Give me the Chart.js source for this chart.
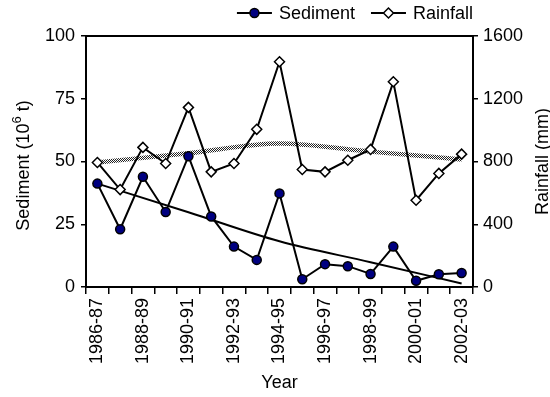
<!DOCTYPE html>
<html>
<head>
<meta charset="utf-8">
<script src="https://cdn.jsdelivr.net/npm/chart.js@4.4.1/dist/chart.umd.min.js"></script>
<style>
  html, body { margin: 0; padding: 0; background: #fff; }
  #wrap { width: 550px; height: 397px; }
</style>
</head>
<body>
<div id="wrap"><canvas id="chart" width="550" height="397"></canvas></div>
<script>
// Hydrological years
const years = ['1986-87', '1987-88', '1988-89', '1989-90', '1990-91', '1991-92',
  '1992-93', '1993-94', '1994-95', '1995-96', '1996-97', '1997-98', '1998-99',
  '1999-00', '2000-01', '2001-02', '2002-03'];

// Annual sediment load (10^6 t)
const sediment = [41.2, 23.0, 43.9, 29.9, 52.1, 28.1, 16.1, 10.8, 37.3,
  3.1, 9.1, 8.3, 5.2, 16.1, 2.5, 5.1, 5.6];

// Annual rainfall (mm)
const rainfall = [794, 621, 890, 787, 1145, 734, 787, 1005, 1436,
  749, 734, 808, 877, 1308, 553, 724, 847];

// Trend curves, sampled at these years
const trendYears = ['1986-87', '1990-91', '1994-95', '1998-99', '2002-03'];
const sedimentTrend = [41.2, 29.8, 18.2, 9.9, 1.4];
const rainfallTrend = [794, 853, 915, 863, 813];

// Axis ranges and steps
const sedimentAxis = { min: 0, max: 100, step: 25 };
const rainfallAxis = { min: 0, max: 1600, step: 400 };

const FONT = '"Liberation Sans", Arial, Helvetica, sans-serif';
const INK = '#000';

// checkered stroke used for the rainfall trend band
function checkerPattern() {
  const c = document.createElement('canvas');
  c.width = 2; c.height = 2;
  const g = c.getContext('2d');
  g.fillStyle = '#fff'; g.fillRect(0, 0, 2, 2);
  g.fillStyle = '#222'; g.fillRect(0, 0, 1, 1); g.fillRect(1, 1, 1, 1);
  return document.getElementById('chart').getContext('2d').createPattern(c, 'repeat');
}

const toPoints = (xs, ys) => xs.map((x, i) => ({ x, y: ys[i] }));

// vertical title reading bottom to top; parts may be raised (superscript)
function verticalTitle(ctx, parts, cx, cy) {
  ctx.save();
  ctx.translate(cx, cy);
  ctx.rotate(-Math.PI / 2);
  ctx.fillStyle = INK;
  ctx.textBaseline = 'alphabetic';
  ctx.textAlign = 'left';
  let total = 0;
  parts.forEach(p => { ctx.font = p.size + 'px ' + FONT; p.w = ctx.measureText(p.text).width; total += p.w; });
  let x = -total / 2;
  parts.forEach(p => {
    ctx.font = p.size + 'px ' + FONT;
    ctx.fillText(p.text, x, 6.5 - (p.raise || 0));
    x += p.w;
  });
  ctx.restore();
}

// top border of the plot box, axis titles and the line-and-marker legend
const frameAndLegend = {
  id: 'frameAndLegend',
  afterDraw(chart) {
    const { ctx, chartArea: a } = chart;
    ctx.save();
    ctx.strokeStyle = INK;
    ctx.lineWidth = 2;
    ctx.beginPath();
    ctx.moveTo(a.left - 1, a.top);
    ctx.lineTo(a.right + 1, a.top);
    ctx.stroke();

    const midY = (a.top + a.bottom) / 2;
    verticalTitle(ctx, [
      { text: 'Sediment (10', size: 18 },
      { text: '6', size: 13, raise: 8 },
      { text: ' t)', size: 18 }
    ], 22, midY + 4);
    verticalTitle(ctx, [{ text: 'Rainfall (mm)', size: 18 }], 541, midY);

    const items = [
      { label: 'Sediment', marker: 'circle' },
      { label: 'Rainfall', marker: 'diamond' }
    ];
    ctx.font = '18px ' + FONT;
    ctx.textBaseline = 'middle';
    ctx.textAlign = 'left';
    const y = 13;
    let x = a.right;
    for (let i = items.length - 1; i >= 0; i--) {
      const it = items[i];
      const tw = ctx.measureText(it.label).width;
      const tx = x - tw;
      const lineEnd = tx - 7;
      const lineStart = lineEnd - 35;
      const mx = (lineStart + lineEnd) / 2;
      ctx.fillStyle = INK;
      ctx.fillText(it.label, tx, y + 1);
      ctx.lineWidth = 2;
      ctx.strokeStyle = INK;
      ctx.beginPath();
      ctx.moveTo(lineStart, y);
      ctx.lineTo(lineEnd, y);
      ctx.stroke();
      ctx.lineWidth = 1.5;
      ctx.beginPath();
      if (it.marker === 'circle') {
        ctx.arc(mx, y, 4.5, 0, Math.PI * 2);
        ctx.fillStyle = '#000080';
      } else {
        ctx.moveTo(mx - 5, y); ctx.lineTo(mx, y - 5);
        ctx.lineTo(mx + 5, y); ctx.lineTo(mx, y + 5);
        ctx.closePath();
        ctx.fillStyle = '#fff';
      }
      ctx.fill();
      ctx.stroke();
      x = lineStart - 16;
    }
    ctx.restore();
  }
};

const tickFont = { family: FONT, size: 18 };
const titleFont = { family: FONT, size: 18 };
const plainNumber = (v) => String(v);

new Chart(document.getElementById('chart'), {
  type: 'line',
  data: {
    labels: years,
    datasets: [
      {
        label: 'Rainfall',
        data: rainfall,
        yAxisID: 'y1',
        borderColor: INK,
        borderWidth: 2,
        pointStyle: 'rectRot',
        pointRadius: 5,
        pointBackgroundColor: '#fff',
        pointBorderColor: INK,
        pointBorderWidth: 1.5,
        tension: 0,
        order: 1
      },
      {
        label: 'Sediment',
        data: sediment,
        yAxisID: 'y',
        borderColor: INK,
        borderWidth: 2,
        pointStyle: 'circle',
        pointRadius: 4.5,
        pointBackgroundColor: '#000080',
        pointBorderColor: INK,
        pointBorderWidth: 1.5,
        tension: 0,
        order: 0
      },
      {
        label: 'Sediment trend',
        data: toPoints(trendYears, sedimentTrend),
        yAxisID: 'y',
        borderColor: INK,
        borderWidth: 2,
        pointRadius: 0,
        cubicInterpolationMode: 'monotone',
        order: 3
      },
      {
        label: 'Rainfall trend',
        data: toPoints(trendYears, rainfallTrend),
        yAxisID: 'y1',
        borderColor: checkerPattern(),
        borderWidth: 4.5,
        pointRadius: 0,
        cubicInterpolationMode: 'monotone',
        order: 4
      }
    ]
  },
  options: {
    responsive: false,
    animation: false,
    devicePixelRatio: 1,
    layout: { padding: { top: 36, left: 0, right: 0, bottom: 0 } },
    plugins: { legend: { display: false }, tooltip: { enabled: false } },
    scales: {
      x: {
        type: 'category',
        offset: true,
        grid: { offset: true, drawOnChartArea: false, drawTicks: true, tickLength: 7, color: INK, lineWidth: 1.5 },
        border: { color: INK, width: 2 },
        ticks: {
          autoSkip: false, minRotation: 90, maxRotation: 90, padding: 4,
          color: INK, font: tickFont,
          callback: function (v, i) { return i % 2 === 0 ? this.getLabelForValue(v) : ''; }
        },
        title: { display: true, text: 'Year', color: INK, font: titleFont, padding: { top: 0, bottom: 3 } },
        afterFit(s) { s.height = 110; }
      },
      y: {
        position: 'left',
        min: sedimentAxis.min, max: sedimentAxis.max,
        grid: { drawOnChartArea: false, drawTicks: true, tickLength: 5, color: INK, lineWidth: 1.5 },
        border: { color: INK, width: 2 },
        ticks: { stepSize: sedimentAxis.step, padding: 6, color: INK, font: tickFont, callback: plainNumber },
        title: { display: false },
        afterFit(s) { s.width = 86; }
      },
      y1: {
        position: 'right',
        min: rainfallAxis.min, max: rainfallAxis.max,
        grid: { drawOnChartArea: false, drawTicks: true, tickLength: 5, color: INK, lineWidth: 1.5 },
        border: { color: INK, width: 2 },
        ticks: { stepSize: rainfallAxis.step, padding: 5, color: INK, font: tickFont, callback: plainNumber },
        title: { display: false },
        afterFit(s) { s.width = 77; }
      }
    }
  },
  plugins: [frameAndLegend]
});
</script>
</body>
</html>
